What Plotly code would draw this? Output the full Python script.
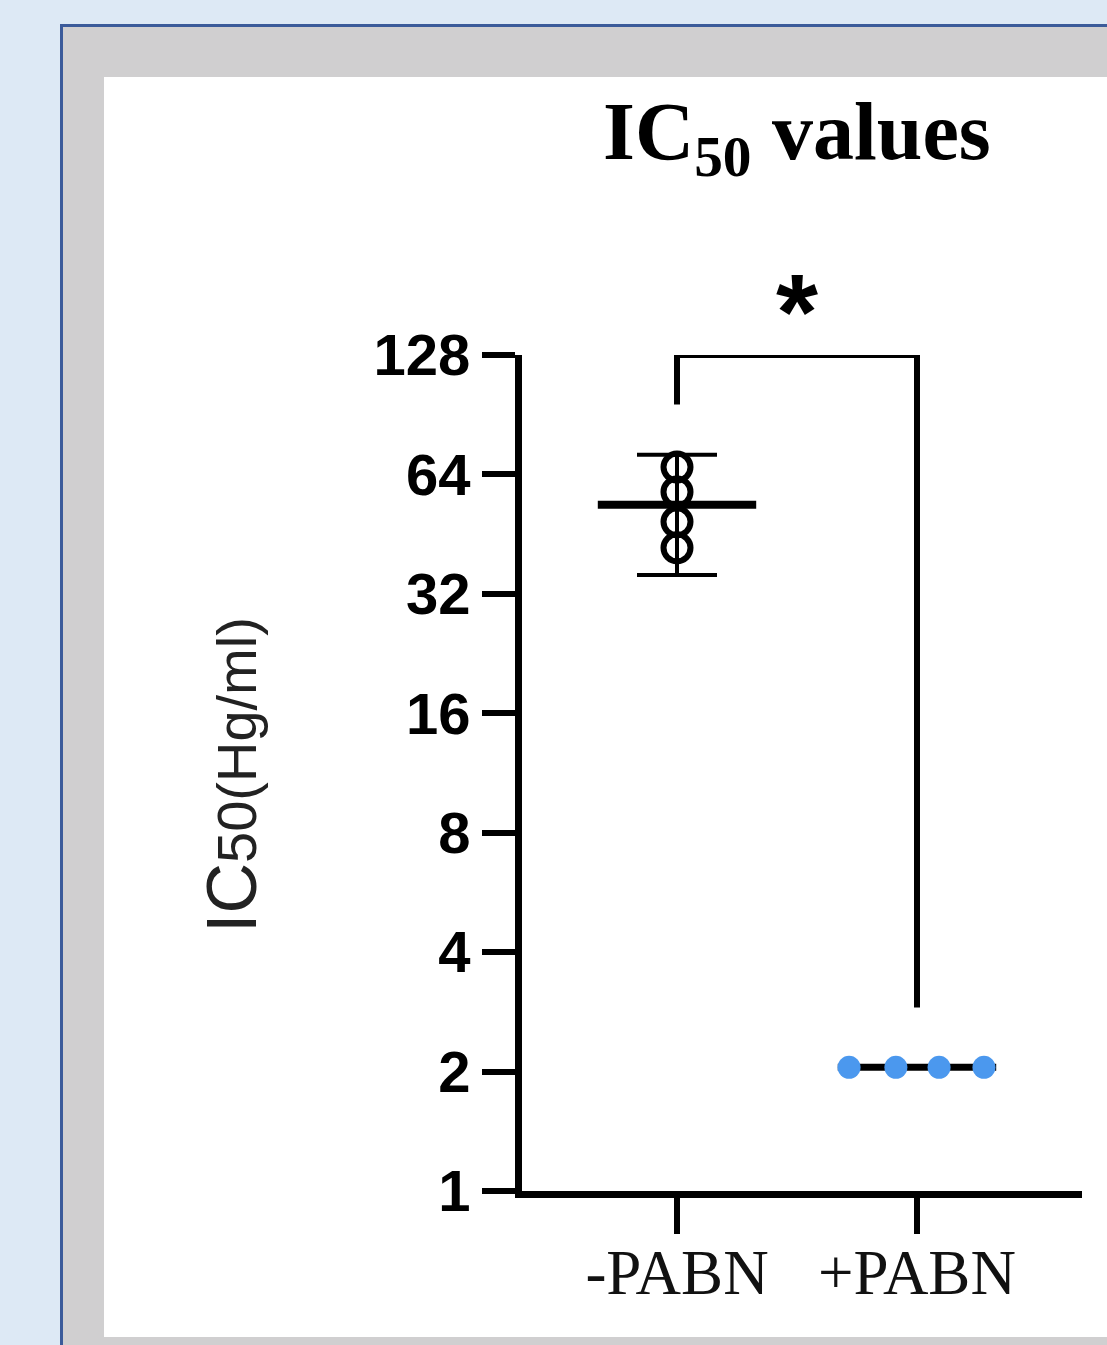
import plotly.graph_objects as go
import math

# ---------------- data ----------------
categories = ["-PABN", "+PABN"]
minus_pabn_values = [66.8, 57.8, 48.6, 41.8]
plus_pabn_values = [2.05, 2.05, 2.05, 2.05]
minus_mean = 53.7
minus_err = 18.0
plus_mean = 2.05
bracket_left_bottom = 96
bracket_top = 128
bracket_right_bottom = 2.9
y_tick_values = [1, 2, 4, 8, 16, 32, 64, 128]
y_tick_labels = ["1", "2", "4", "8", "16", "32", "64", "128"]
significance = "*"

# ---------------- layout geometry (pixels) ----------------
FW, FH = 1107, 1345
L, T = 522, 355
R_EDGE, B_EDGE = 1082, 1191
W, H = R_EDGE - L, B_EDGE - T


def px(xp):
    return (xp - L) / W


def py(yp):
    return 1 - (yp - T) / H


x_range = [-(677 - L) / 240, 1 + (R_EDGE - 917) / 240]
half_w = 0.33
plus_offsets = [-0.283, -0.088, 0.092, 0.279]

fig = go.Figure()

# error bar for -PABN (mean +/- err)
fig.add_trace(go.Scatter(
    x=[0], y=[minus_mean], mode="markers",
    marker=dict(size=1, color="rgba(0,0,0,0)"),
    error_y=dict(type="data", array=[minus_err], symmetric=True,
                 color="black", thickness=4, width=40),
    showlegend=False, hoverinfo="skip"))

# mean lines
fig.add_trace(go.Scatter(
    x=[0 - half_w, 0 + half_w], y=[minus_mean, minus_mean], mode="lines",
    line=dict(color="black", width=8), showlegend=False, hoverinfo="skip"))
fig.add_trace(go.Scatter(
    x=[1 - half_w, 1 + half_w], y=[plus_mean, plus_mean], mode="lines",
    line=dict(color="black", width=7), showlegend=False, hoverinfo="skip"))

# individual points
fig.add_trace(go.Scatter(
    x=[0] * len(minus_pabn_values), y=minus_pabn_values, mode="markers",
    marker=dict(symbol="circle-open", size=27, color="black",
                line=dict(width=6, color="black")),
    showlegend=False))
fig.add_trace(go.Scatter(
    x=[1 + o for o in plus_offsets], y=plus_pabn_values, mode="markers",
    marker=dict(symbol="circle", size=23, color="#4b98ee"),
    showlegend=False))

# significance bracket
fig.add_trace(go.Scatter(
    x=[0, 0, 1, 1],
    y=[bracket_left_bottom, bracket_top, bracket_top, bracket_right_bottom],
    mode="lines", line=dict(color="black", width=6),
    cliponaxis=False, showlegend=False, hoverinfo="skip"))

shapes = [
    dict(type="rect", xref="paper", yref="paper", x0=px(60), x1=px(1130),
         y0=py(24), y1=py(1370), fillcolor="#3b5b9a", line=dict(width=0),
         layer="below"),
    dict(type="rect", xref="paper", yref="paper", x0=px(63), x1=px(1130),
         y0=py(27), y1=py(1370), fillcolor="#d0cfd0", line=dict(width=0),
         layer="below"),
    dict(type="rect", xref="paper", yref="paper", x0=px(104), x1=px(1130),
         y0=py(77), y1=py(1337), fillcolor="white", line=dict(width=0),
         layer="below"),
]

annotations = [
    dict(text="<b>IC<sub>50</sub> values</b>", xref="paper", yref="paper",
         x=px(797), y=py(137), xanchor="center", yanchor="middle",
         showarrow=False,
         font=dict(family="Liberation Serif", size=82, color="black")),
    dict(text="IC<span style='font-size:56px'>50(Hg/ml)</span>",
         xref="paper", yref="paper", x=px(232), y=py(775),
         xanchor="center", yanchor="middle", textangle=-90, showarrow=False,
         font=dict(family="Liberation Sans", size=70, color="#222222")),
    dict(text="<b>" + significance + "</b>", xref="paper", yref="paper",
         x=px(797), y=py(311), xanchor="center", yanchor="middle",
         showarrow=False,
         font=dict(family="Liberation Sans", size=108, color="black")),
]

fig.update_layout(
    width=FW, height=FH,
    margin=dict(l=L, r=FW - R_EDGE, t=T, b=FH - B_EDGE, pad=0),
    paper_bgcolor="#dde9f5",
    plot_bgcolor="rgba(0,0,0,0)",
    shapes=shapes,
    annotations=annotations,
    showlegend=False,
    xaxis=dict(
        range=x_range, tickvals=[0, 1], ticktext=categories,
        showline=True, linewidth=7, linecolor="black",
        ticks="outside", ticklen=36, tickwidth=6, tickcolor="black",
        showgrid=False, zeroline=False, ticklabelstandoff=-16,
        tickfont=dict(family="Liberation Serif", size=63, color="#111111"),
    ),
    yaxis=dict(
        type="log", range=[math.log10(1), math.log10(128)],
        tickvals=y_tick_values, ticktext=y_tick_labels,
        showline=True, linewidth=7, linecolor="black",
        ticks="outside", ticklen=33, tickwidth=6, tickcolor="black",
        showgrid=False, zeroline=False,
        tickfont=dict(family="Liberation Sans", size=58, color="black",
                      weight="bold"),
    ),
)

fig.write_html(
    "out.html",
    config={"displayModeBar": False},
    post_script="document.body.style.margin='0';"
                "document.body.style.background='#dde9f5';",
)
